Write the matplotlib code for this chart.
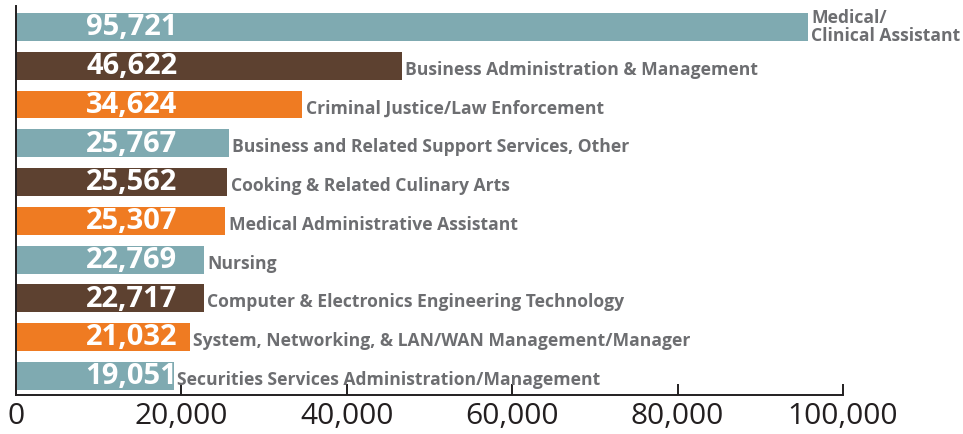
import matplotlib
matplotlib.use("Agg")
import matplotlib.pyplot as plt
from matplotlib.ticker import FuncFormatter

categories = [
    "Medical/\nClinical Assistant",
    "Business Administration & Management",
    "Criminal Justice/Law Enforcement",
    "Business and Related Support Services, Other",
    "Cooking & Related Culinary Arts",
    "Medical Administrative Assistant",
    "Nursing",
    "Computer & Electronics Engineering Technology",
    "System, Networking, & LAN/WAN Management/Manager",
    "Securities Services Administration/Management",
]
values = [95721, 46622, 34624, 25767, 25562, 25307, 22769, 22717, 21032, 19051]
palette = ["#7faab1", "#5d4130", "#ef7b22"]
colors = [palette[i % 3] for i in range(len(values))]
ticks = [0, 20000, 40000, 60000, 80000, 100000]

fig = plt.figure(figsize=(9.63, 4.34), dpi=100)
ax = fig.add_axes([16/963, 39/434, (843-16)/963, (395-6)/434])

ypos = list(range(len(values)))
ax.barh(ypos, values, height=0.72, color=colors, zorder=2)
ax.set_ylim(9.49, -0.54)
ax.set_xlim(0, 100000)

for y, v, c in zip(ypos, values, categories):
    ax.text(19500, y + 0.02, f"{v:,}", ha="right", va="center", color="white",
            fontsize=21, fontweight="bold", family="Open Sans", zorder=3)
    ax.text(v + 400, y + (0.1 if "\n" not in c else 0.0), c, ha="left", va="center",
            color="#6d6e71", fontsize=12.6, fontweight="bold", family="Open Sans",
            linespacing=0.95, zorder=3)

for s in ["top", "right"]:
    ax.spines[s].set_visible(False)
ax.spines["left"].set_linewidth(1.4)
ax.spines["bottom"].set_linewidth(1.4)
ax.spines["left"].set_color("#231f20")
ax.spines["bottom"].set_color("#231f20")
ax.set_yticks([])
ax.set_xticks(ticks)
ax.xaxis.set_major_formatter(FuncFormatter(lambda x, p: f"{int(x):,}"))
ax.tick_params(axis="x", direction="in", length=8, width=1.4, color="#231f20",
               labelsize=21.5, labelcolor="#231f20", pad=5)
for lab in ax.get_xticklabels():
    lab.set_family("Open Sans")

fig.savefig("out.png", dpi=100)
